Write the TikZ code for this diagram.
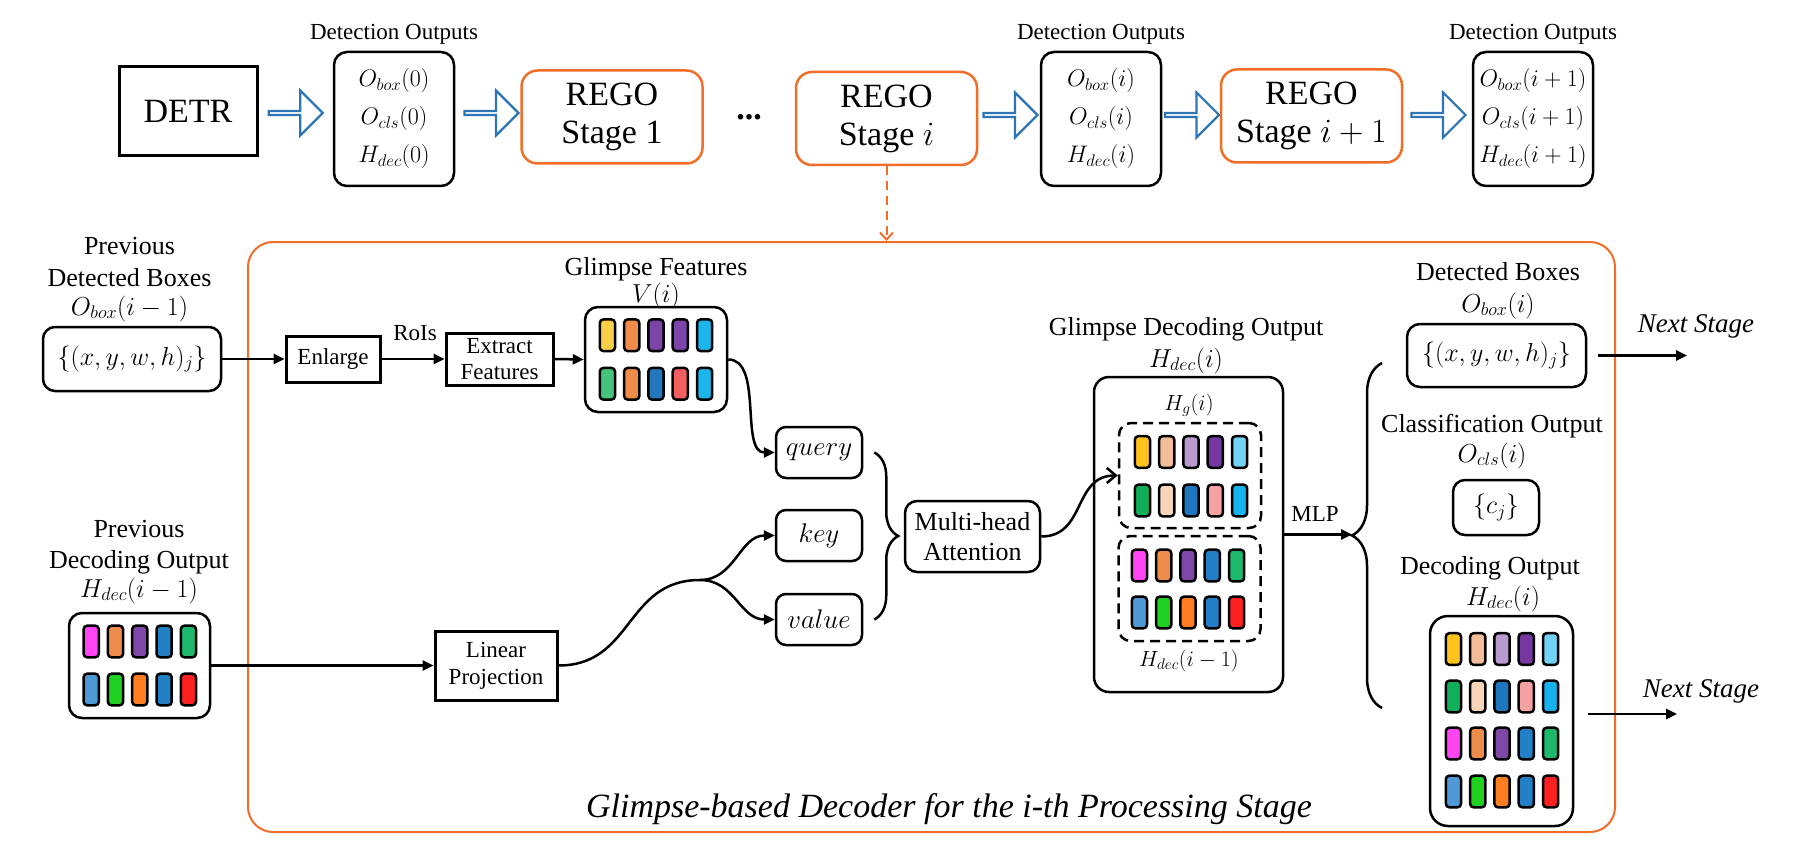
\RequirePackage{fix-cm}
\documentclass[tikz,border=0pt]{standalone}
\usepackage{fontspec}
\setmainfont{Liberation Serif}
\usetikzlibrary{arrows.meta,shapes.arrows,decorations.pathreplacing,calc}

\definecolor{orng}{RGB}{240,110,40}
\definecolor{blu}{RGB}{46,117,182}
\definecolor{gfa}{HTML}{F9CF45}\definecolor{gfb}{HTML}{EF8C4A}\definecolor{gfc}{HTML}{7B44A6}
\definecolor{gfd}{HTML}{1CB6EA}\definecolor{gfe}{HTML}{46C37B}\definecolor{gff}{HTML}{2277BD}
\definecolor{gfg}{HTML}{F25F5F}
\definecolor{hga}{HTML}{FFC41C}\definecolor{hgb}{HTML}{F4BC98}\definecolor{hgc}{HTML}{B899D0}
\definecolor{hgd}{HTML}{7637A0}\definecolor{hge}{HTML}{72D2F5}\definecolor{hgf}{HTML}{10B05A}
\definecolor{hgg}{HTML}{F8D4B8}\definecolor{hgh}{HTML}{1F76BF}\definecolor{hgi}{HTML}{F7A2A2}
\definecolor{hgj}{HTML}{16B2EE}
\definecolor{hpa}{HTML}{FF45F3}\definecolor{hpb}{HTML}{EE8C4C}\definecolor{hpc}{HTML}{7F47A8}
\definecolor{hpd}{HTML}{2380C6}\definecolor{hpe}{HTML}{1EB86C}\definecolor{hpf}{HTML}{4D98D5}
\definecolor{hpg}{HTML}{21D121}\definecolor{hph}{HTML}{FF7E22}\definecolor{hpi}{HTML}{FF2121}

\newcommand\szBig{\fontsize{34}{38}\selectfont}
\newcommand\szTop{\fontsize{23}{27}\selectfont}
\newcommand\szBox{\fontsize{24}{38}\selectfont}
\newcommand\szLab{\fontsize{26}{31}\selectfont}
\newcommand\szSm{\fontsize{23}{26}\selectfont}
\newcommand\szQ{\fontsize{27}{30}\selectfont}
\newcommand\szMH{\fontsize{26}{30}\selectfont}
\newcommand\szIn{\fontsize{22}{26}\selectfont}
\newcommand\szNS{\fontsize{27}{30}\selectfont}
\newcommand\szCap{\fontsize{34}{38}\selectfont}

\tikzset{
  sharpbox/.style={draw, line width=3pt, inner sep=0pt, align=center},
  rbox/.style={draw, line width=2.5pt, rounded corners=13pt, inner sep=0pt, align=center},
  regobox/.style={draw=orng, line width=2.5pt, rounded corners=16pt, inner sep=0pt,
    minimum width=181pt, minimum height=93pt, align=center, font=\szBig},
  barrow/.style={single arrow, draw=blu, fill=white, line width=2.2pt, minimum height=54pt,
    minimum width=45pt, single arrow head extend=10.8pt, inner sep=0pt},
  conn/.style={line width=2.5pt, -{Triangle[length=11pt,width=10pt]}},
  lab/.style={anchor=base, inner sep=0pt},
  barst/.style={draw=black, line width=2.5pt, rounded corners=3.5pt},
  dbox/.style={draw, dash pattern=on 10pt off 6pt, line width=2.5pt, rounded corners=12pt,
    minimum width=142pt, minimum height=105pt, inner sep=0pt},
}

\newcommand{\fivebars}[3]{%
  \foreach \bcol [count=\bk from 0] in {#3}{%
    \draw[barst, fill=\bcol] ({#1+24.3*(\bk-2)-7.6},{#2-15.8}) rectangle ++(15.2,31.6);
  }%
}

\begin{document}
\begin{tikzpicture}[x=1pt,y=-1pt]
\useasboundingbox (0,0) rectangle (1793,861);

% ---------- top row ----------
\node[sharpbox, minimum width=138pt, minimum height=89pt, font=\szBig] (detr) at (188,111.5) {DETR};
\node[lab, font=\szTop] (dl0) at (394,40) {Detection Outputs};
\node[rbox, minimum width=120pt, minimum height=134pt, font=\szBox] (d0) at (394,119)
  {$O_{box}(0)$\\$O_{cls}(0)$\\$H_{dec}(0)$};
\node[regobox] (rego1) at (612,117) {REGO\\Stage 1};
\node[font=\szBig, inner sep=0pt] (dots) at (749,117) {\textbf{...}};
\node[regobox] (regoi) at (886.5,118.5) {REGO\\Stage $i$};
\node[lab, font=\szTop] (dli) at (1101,40) {Detection Outputs};
\node[rbox, minimum width=120pt, minimum height=134pt, font=\szBox] (di) at (1101,119)
  {$O_{box}(i)$\\$O_{cls}(i)$\\$H_{dec}(i)$};
\node[regobox] (regoj) at (1311.5,116) {REGO\\Stage $i+1$};
\node[lab, font=\szTop] (dlj) at (1533,40) {Detection Outputs};
\node[rbox, minimum width=120pt, minimum height=134pt, font=\szBox] (dj) at (1533,119)
  {$O_{box}(i+1)$\\$O_{cls}(i+1)$\\$H_{dec}(i+1)$};

\node[barrow] (ba1) at (294.75,113) {};
\node[barrow] (ba2) at (490.5,113) {};
\node[barrow] (ba3) at (1009.5,115) {};
\node[barrow] (ba4) at (1191,115) {};
\node[barrow] (ba5) at (1437.5,115) {};

% ---------- frame ----------
\node[draw=orng, line width=2pt, rounded corners=25pt, minimum width=1367pt, minimum height=590pt,
  inner sep=0pt] (frame) at (931.5,537) {};
\draw[orng, line width=2pt, dash pattern=on 9pt off 6pt, -{Straight Barb[length=7pt,width=13pt]}]
  (regoi.south) -- (regoi.south |- frame.north);
\node[font=\szCap] (cap) at (949,809) {\textit{Glimpse-based Decoder for the i-th Processing Stage}};

% ---------- left upper ----------
\node[lab, font=\szLab] (pdb1) at (129.5,254) {Previous};
\node[lab, font=\szLab] (pdb2) at (129.5,286) {Detected Boxes};
\node[lab, font=\szLab] (pdb3) at (129.5,315) {$O_{box}(i-1)$};
\node[rbox, rounded corners=12pt, minimum width=178pt, minimum height=64pt, font=\szLab] (pbox) at (132,359) {$\{(x,y,w,h)_j\}$};
\node[sharpbox, minimum width=94pt, minimum height=46pt, font=\szSm] (enl) at (333,359) {Enlarge};
\node[lab, font=\szSm] (rois) at (415,340) {RoIs};
\node[sharpbox, minimum width=107pt, minimum height=52pt, font=\szSm] (ext) at (499.5,359) {Extract\\Features};
\node[lab, font=\szLab] (gfl1) at (656,275) {Glimpse Features};
\node[lab, font=\szLab] (gfl2) at (656,302) {$V(i)$};
\node[rbox, minimum width=142pt, minimum height=105pt] (gf) at (656,359.5) {};
\fivebars{656}{335.25}{gfa,gfb,gfc,gfc,gfd}
\fivebars{656}{383.75}{gfe,gfb,gff,gfg,gfd}

\draw[conn] (pbox.east) -- (enl.west);
\draw[conn] (enl.east) -- (ext.west);
\draw[conn] (ext.east) -- (gf.west);

% ---------- left lower ----------
\node[lab, font=\szLab] (pdo1) at (139,537) {Previous};
\node[lab, font=\szLab] (pdo2) at (139,568) {Decoding Output};
\node[lab, font=\szLab] (pdo3) at (139,597) {$H_{dec}(i-1)$};
\node[rbox, minimum width=141pt, minimum height=105pt] (hp) at (139.5,665.5) {};
\fivebars{139.8}{641.5}{hpa,hpb,hpc,hpd,hpe}
\fivebars{139.8}{689.5}{hpf,hpg,hph,hpd,hpi}
\node[sharpbox, minimum width=122pt, minimum height=69pt, font=\fontsize{23}{27}\selectfont] (lp) at (496,665.5) {Linear\\Projection};
\draw[conn] (hp.east) -- (lp.west);

% ---------- q k v ----------
\node[rbox, rounded corners=10pt, minimum width=86pt, minimum height=51pt, font=\szQ] (q) at (819,452.5) {$query$};
\node[rbox, rounded corners=10pt, minimum width=86pt, minimum height=51pt, font=\szQ] (k) at (819,535.5) {$key$};
\node[rbox, rounded corners=10pt, minimum width=86pt, minimum height=51pt, font=\szQ] (v) at (819,619.5) {$value$};
\draw[conn] (gf.east) .. controls +(35,0) and +(-35,0) .. (q.west);
\coordinate (fork) at (700,580);
\draw[line width=2.5pt] (lp.east) .. controls +(75,0) and +(-75,0) .. (fork);
\draw[conn] (fork) .. controls +(35,0) and +(-35,0) .. (k.west);
\draw[conn] (fork) .. controls +(35,0) and +(-35,0) .. (v.west);
\coordinate (bq) at ($(q.east)+(11,0)$);
\coordinate (bv) at ($(v.east)+(11,0)$);
\draw[line width=2.5pt, decorate, decoration={brace, amplitude=24pt}] (bq) -- (bv);

\node[rbox, rounded corners=12pt, minimum width=135pt, minimum height=71pt, font=\szMH] (mha) at (972.5,536.5) {Multi-head\\Attention};

% ---------- glimpse decoding output ----------
\node[lab, font=\szLab] (gdl1) at (1186,335) {Glimpse Decoding Output};
\node[lab, font=\szLab] (gdl2) at (1186,367) {$H_{dec}(i)$};
\node[rbox, rounded corners=15pt, minimum width=189pt, minimum height=315pt] (gdo) at (1188.5,534.5) {};
\node[lab, font=\szIn] (hgl) at (1189,410) {$H_g(i)$};
\node[dbox] (hg) at (1190,475.5) {};
\fivebars{1191}{452}{hga,hgb,hgc,hgd,hge}
\fivebars{1191}{500.5}{hgf,hgg,hgh,hgi,hgj}
\node[dbox] (hpp) at (1189.5,588.5) {};
\fivebars{1188}{565.5}{hpa,hpb,hpc,hpd,hpe}
\fivebars{1188}{612.5}{hpf,hpg,hph,hpd,hpi}
\node[lab, font=\szIn] (hpl) at (1189,666) {$H_{dec}(i-1)$};
\draw[line width=2.5pt, -{Straight Barb[length=9pt,width=15pt]}] (mha.east) .. controls +(45,0) and +(-45,0) .. (hg.west);

\coordinate (bt) at (1352,534.5);
\draw[conn] (gdo.east) -- (bt);
\node[lab, font=\szSm] (mlp) at (1315,521) {MLP};
\coordinate (rb1) at (1382,708);
\coordinate (rb2) at (1382,363);
\draw[line width=2.5pt, decorate, decoration={brace, amplitude=30pt}] (rb1) -- (rb2);

% ---------- right column ----------
\node[lab, font=\szLab] (dbl1) at (1498,280) {Detected Boxes};
\node[lab, font=\szLab] (dbl2) at (1498,312) {$O_{box}(i)$};
\node[rbox, rounded corners=13pt, minimum width=179pt, minimum height=63pt, font=\szLab] (obox) at (1496.5,355.5) {$\{(x,y,w,h)_j\}$};
\coordinate (ns1) at (1687,355.5);
\draw[conn, shorten <=11pt] (obox.east) -- (ns1);
\node[lab, font=\szNS] (nst1) at (1696,332) {\textit{Next Stage}};

\node[lab, font=\szLab] (col1) at (1492,432) {Classification Output};
\node[lab, font=\szLab] (col2) at (1492,462) {$O_{cls}(i)$};
\node[rbox, rounded corners=12pt, minimum width=86pt, minimum height=55pt, font=\szLab] (cls) at (1496,507.5) {$\{c_j\}$};

\node[lab, font=\szLab] (dol1) at (1490,574) {Decoding Output};
\node[lab, font=\szLab] (dol2) at (1503,605) {$H_{dec}(i)$};
\node[rbox, rounded corners=18pt, minimum width=143pt, minimum height=210pt] (hd) at (1501.5,721) {};
\fivebars{1502}{649}{hga,hgb,hgc,hgd,hge}
\fivebars{1502}{696.5}{hgf,hgg,hgh,hgi,hgj}
\fivebars{1502}{743.5}{hpa,hpb,hpc,hpd,hpe}
\fivebars{1502}{791.5}{hpf,hpg,hph,hpd,hpi}
\coordinate (ns2) at (1677,714);
\draw[conn, shorten <=14pt] (hd.east |- ns2) -- (ns2);
\node[lab, font=\szNS] (nst2) at (1701,697) {\textit{Next Stage}};
\end{tikzpicture}
\end{document}
